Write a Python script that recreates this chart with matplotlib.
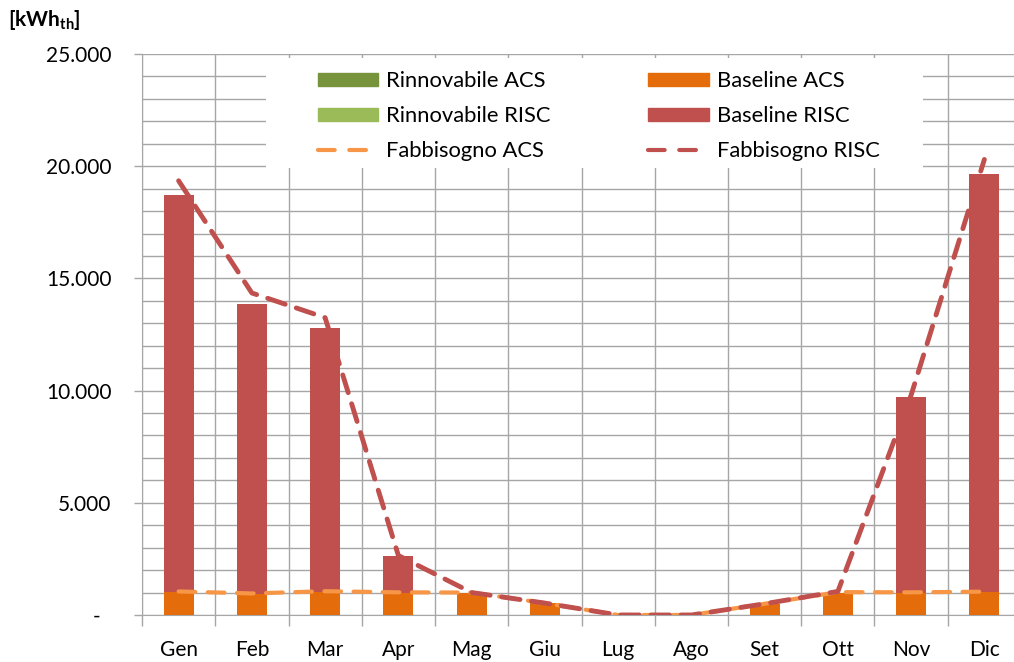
import numpy as np
import matplotlib.pyplot as plt
from matplotlib.patches import Patch, Rectangle
from matplotlib.lines import Line2D
from matplotlib.ticker import FuncFormatter, MultipleLocator

plt.rcParams['font.family'] = ['Lato', 'DejaVu Sans']
plt.rcParams['mathtext.fontset'] = 'custom'
plt.rcParams['mathtext.rm'] = 'Lato'
plt.rcParams['mathtext.bf'] = 'Lato:bold'

# dati
mesi = ['Gen', 'Feb', 'Mar', 'Apr', 'Mag', 'Giu', 'Lug', 'Ago', 'Set', 'Ott', 'Nov', 'Dic']
rinnovabile_acs = [0, 0, 0, 0, 0, 0, 0, 0, 0, 0, 0, 0]
rinnovabile_risc = [0, 0, 0, 0, 0, 0, 0, 0, 0, 0, 0, 0]
baseline_acs = [1020, 940, 1020, 980, 990, 530, 0, 0, 500, 990, 980, 1020]
baseline_risc = [17700, 12900, 11770, 1650, 0, 0, 0, 0, 0, 0, 8740, 18650]
fabbisogno_acs = [1050, 960, 1060, 1010, 1000, 530, 0, 0, 500, 1020, 1010, 1040]
fabbisogno_risc = [19350, 14350, 13250, 2650, 1000, 530, 0, 0, 500, 1050, 9800, 20300]

col_r_acs = '#77933C'
col_r_risc = '#9BBB59'
col_b_acs = '#E46C0A'
col_b_risc = '#C0504D'
col_f_acs = '#F79646'
col_f_risc = '#C0504D'
grigio = '#A6A6A6'

W, H = 1014, 662
fig = plt.figure(figsize=(W / 100, H / 100), dpi=100)
ax = fig.add_axes([142/W, 1 - 615/H, 879/W, 561/H])

x = np.arange(len(mesi))
w = 0.41
ax.bar(x, rinnovabile_acs, w, color=col_r_acs, linewidth=0, zorder=3)
b1 = np.array(rinnovabile_acs)
ax.bar(x, rinnovabile_risc, w, bottom=b1, color=col_r_risc, linewidth=0, zorder=3)
b2 = b1 + np.array(rinnovabile_risc)
ax.bar(x, baseline_acs, w, bottom=b2, color=col_b_acs, linewidth=0, zorder=3)
b3 = b2 + np.array(baseline_acs)
ax.bar(x, baseline_risc, w, bottom=b3, color=col_b_risc, linewidth=0, zorder=3)

ax.plot(x, fabbisogno_acs, color=col_f_acs, lw=3, dashes=(4, 3), dash_capstyle='round', zorder=4)
ax.plot(x, fabbisogno_risc, color=col_f_risc, lw=3.5, dashes=(3.8, 2.4), dash_capstyle='round', zorder=5)

ax.set_xlim(-0.5, 11.5)
ax.set_ylim(0, 25000)

# griglia
ax.set_xticks(x)
ax.set_xticklabels(mesi, fontsize=15)
ax.set_xticks(np.arange(-0.5, 12, 1), minor=True)
ax.tick_params(axis='x', which='major', length=0, pad=18)
ax.tick_params(axis='x', which='minor', length=8, color=grigio, width=1)
ax.yaxis.set_major_locator(MultipleLocator(5000))
ax.yaxis.set_minor_locator(MultipleLocator(1000))
ax.tick_params(axis='y', which='major', length=6, color=grigio, width=1, pad=16, labelsize=15)
ax.tick_params(axis='y', which='minor', length=0)
ax.yaxis.set_major_formatter(FuncFormatter(
    lambda v, p: '-  ' if v == 0 else '{:,.0f}'.format(v).replace(',', '.')))
ax.grid(True, which='both', color=grigio, lw=1)
ax.xaxis.grid(True, which='major', lw=0)
ax.set_axisbelow(True)
for s in ['top', 'right']:
    ax.spines[s].set_visible(False)
ax.spines['left'].set_color(grigio)
ax.spines['bottom'].set_color(grigio)

# sfondo bianco della legenda (copre la griglia)
x0, x1 = 266, 923
y0, y1 = 58, 168
ax.add_patch(Rectangle((x0 / W, 1 - y1 / H), (x1 - x0) / W, (y1 - y0) / H,
                       transform=fig.transFigure, facecolor='white', edgecolor='none', zorder=2))

handles = [
    Patch(color=col_r_acs), Patch(color=col_r_risc),
    Line2D([], [], color=col_f_acs, lw=3, dashes=(4, 3.5), dash_capstyle='round'),
    Patch(color=col_b_acs), Patch(color=col_b_risc),
    Line2D([], [], color=col_f_risc, lw=3, dashes=(4, 3.5), dash_capstyle='round'),
]
labels = ['Rinnovabile ACS', 'Rinnovabile RISC', 'Fabbisogno ACS',
          'Baseline ACS', 'Baseline RISC', 'Fabbisogno RISC']
leg = fig.legend(handles, labels, ncol=2, loc='upper left',
                 bbox_to_anchor=(318 / W, 1 - 71 / H), bbox_transform=fig.transFigure,
                 fontsize=15.8, frameon=False, borderpad=0, borderaxespad=0,
                 handlelength=2.75, handleheight=0.55, labelspacing=0.68, columnspacing=4.45,
                 handletextpad=0.36)

fig.text(8/W, 1 - 20/H, r'[kWh$_{\mathbf{th}}$]', fontsize=15, fontweight='bold', va='center')

fig.savefig('out.png', dpi=100)
